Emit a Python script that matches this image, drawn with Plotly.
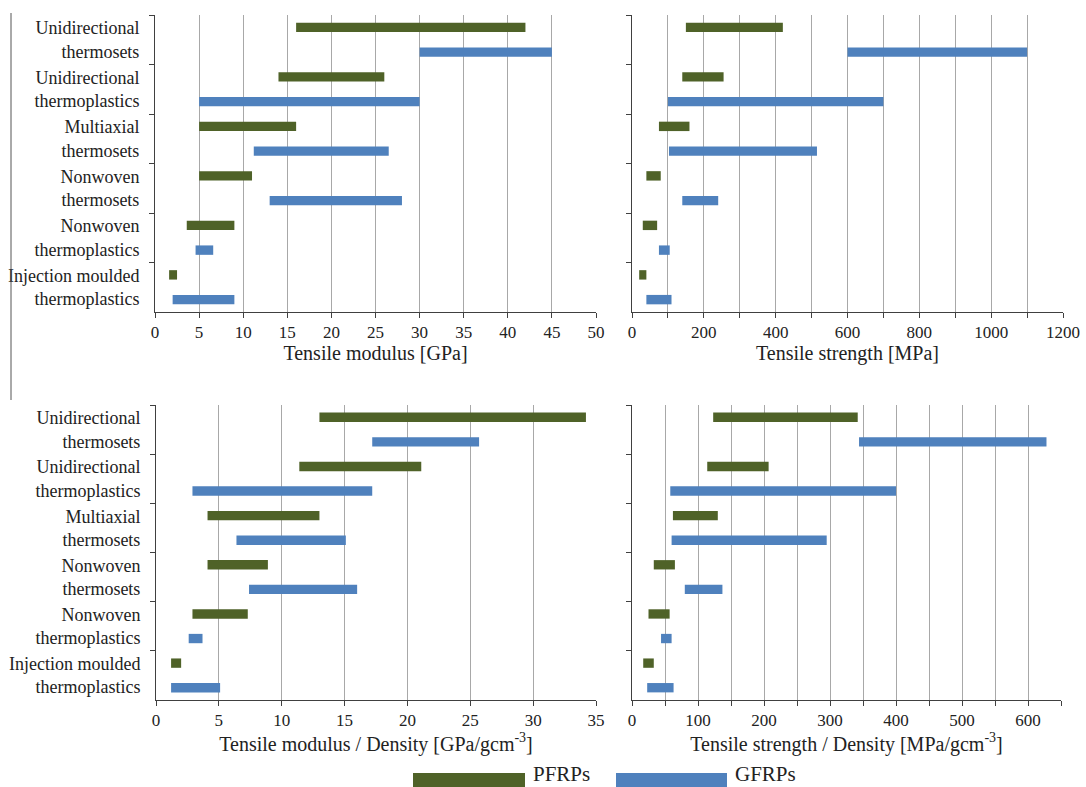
import plotly.graph_objects as go

categories = ["Unidirectional<br>thermosets", "Unidirectional<br>thermoplastics",
              "Multiaxial<br>thermosets", "Nonwoven<br>thermosets",
              "Nonwoven<br>thermoplastics", "Injection moulded<br>thermoplastics"]

# Tensile modulus [GPa]
mod_pfrp_lo = [16, 14, 5, 5, 3.6, 1.6]
mod_pfrp_hi = [42, 26, 16, 11, 9, 2.5]
mod_gfrp_lo = [30, 5, 11.2, 13, 4.6, 2]
mod_gfrp_hi = [45, 30, 26.5, 28, 6.6, 9]

# Tensile strength [MPa]
str_pfrp_lo = [150, 140, 75, 40, 30, 20]
str_pfrp_hi = [420, 255, 160, 80, 70, 40]
str_gfrp_lo = [600, 100, 103, 140, 75, 40]
str_gfrp_hi = [1100, 700, 515, 240, 105, 110]

# Tensile modulus / density [GPa/gcm-3]
smod_pfrp_lo = [13.0, 11.4, 4.1, 4.1, 2.9, 1.2]
smod_pfrp_hi = [34.2, 21.1, 13.0, 8.9, 7.3, 2.0]
smod_gfrp_lo = [17.2, 2.9, 6.4, 7.4, 2.6, 1.2]
smod_gfrp_hi = [25.7, 17.2, 15.1, 16.0, 3.7, 5.1]

# Tensile strength / density [MPa/gcm-3]
sstr_pfrp_lo = [123, 114, 62, 33, 25, 17]
sstr_pfrp_hi = [342, 207, 130, 65, 57, 33]
sstr_gfrp_lo = [344, 58, 60, 80, 44, 23]
sstr_gfrp_hi = [628, 400, 295, 137, 60, 63]

GREEN = "#4F6228"
BLUE = "#4F81BD"
FONT = "Liberation Serif, Times New Roman, DejaVu Serif, serif"

fig = go.Figure()
panels = [
    ("x", "y", mod_pfrp_lo, mod_pfrp_hi, mod_gfrp_lo, mod_gfrp_hi),
    ("x2", "y2", str_pfrp_lo, str_pfrp_hi, str_gfrp_lo, str_gfrp_hi),
    ("x3", "y3", smod_pfrp_lo, smod_pfrp_hi, smod_gfrp_lo, smod_gfrp_hi),
    ("x4", "y4", sstr_pfrp_lo, sstr_pfrp_hi, sstr_gfrp_lo, sstr_gfrp_hi),
]
for xa, ya, plo, phi, glo, ghi in panels:
    fig.add_trace(go.Bar(orientation="h", y=categories, base=plo,
                         x=[h - l for l, h in zip(plo, phi)],
                         marker=dict(color=GREEN, line=dict(width=0)),
                         name="PFRPs", xaxis=xa, yaxis=ya, showlegend=False))
    fig.add_trace(go.Bar(orientation="h", y=categories, base=glo,
                         x=[h - l for l, h in zip(glo, ghi)],
                         marker=dict(color=BLUE, line=dict(width=0)),
                         name="GFRPs", xaxis=xa, yaxis=ya, showlegend=False))

AXC = "#404040"
GRIDC = "#A8A8A8"
tickfont = dict(family=FONT, size=17, color="#222222")
titlefont = dict(family=FONT, size=20, color="#222222")


def xaxis(domain, anchor, rng, step, label_step, title):
    vals = []
    v = 0
    while v <= rng[1] + 1e-9:
        vals.append(v)
        v += step
    text = [str(int(v)) if abs((v / label_step) - round(v / label_step)) < 1e-9 else " " for v in vals]
    return dict(domain=domain, anchor=anchor, range=rng, tickmode="array",
                tickvals=vals, ticktext=text, showgrid=True, gridcolor=GRIDC,
                gridwidth=1, zeroline=False, showline=True, linecolor=AXC,
                linewidth=1, ticks="outside", ticklen=5, tickcolor=AXC,
                automargin=False, tickfont=tickfont,
                title=dict(text=title, font=titlefont, standoff=4))


def yaxis(domain, anchor, labels):
    return dict(domain=domain, anchor=anchor, type="category",
                categoryorder="array", categoryarray=categories,
                range=[5.5, -0.5], tickson="boundaries", ticks="outside",
                ticklen=5, tickcolor=AXC, showline=True, linecolor=AXC,
                linewidth=1, showgrid=False, zeroline=False, ticklabelstandoff=11,
                automargin=False, showticklabels=labels,
                tickfont=dict(family=FONT, size=18, color="#222222"))


top = [1 - 312 / 787, 1 - 15 / 787]
bot = [1 - 700 / 787, 1 - 405 / 787]

fig.update_layout(
    width=1086, height=787, autosize=False,
    margin=dict(l=0, r=0, t=0, b=0, pad=0, autoexpand=False),
    paper_bgcolor="white", plot_bgcolor="white",
    barmode="group", bargap=0, bargroupgap=0.62,
    font=dict(family=FONT),
    xaxis=xaxis([155 / 1086, 596 / 1086], "y", [0, 50], 5, 5, "Tensile modulus [GPa]"),
    yaxis=yaxis(top, "x", True),
    xaxis2=xaxis([632 / 1086, 1063 / 1086], "y2", [0, 1200], 100, 200, "Tensile strength [MPa]"),
    yaxis2=yaxis(top, "x2", False),
    xaxis3=xaxis([156 / 1086, 596 / 1086], "y3", [0, 35], 5, 5,
                 "Tensile modulus / Density [GPa/gcm<sup>-3</sup>]"),
    yaxis3=yaxis(bot, "x3", True),
    xaxis4=xaxis([632 / 1086, 1061 / 1086], "y4", [0, 650], 50, 100,
                 "Tensile strength / Density [MPa/gcm<sup>-3</sup>]"),
    yaxis4=yaxis(bot, "x4", False),
)

# legend drawn as wide swatches like the original
legend_items = [("PFRPs", GREEN, 413, 525, 532), ("GFRPs", BLUE, 616, 727, 734)]
for name, col, x0, x1, tx in legend_items:
    fig.add_shape(type="rect", xref="paper", yref="paper",
                  x0=x0 / 1086, x1=x1 / 1086, y0=-0.01, y1=1 - 773 / 787,
                  fillcolor=col, line=dict(width=0))
    fig.add_annotation(xref="paper", yref="paper", x=tx / 1086, y=0,
                       text=name, showarrow=False, xanchor="left", yanchor="bottom",
                       borderpad=0, font=dict(family=FONT, size=21, color="#222222"))

# vertical rule at the far left
fig.add_shape(type="line", xref="paper", yref="paper", x0=11 / 1086, x1=11 / 1086,
              y0=1 - 400 / 787, y1=1 - 13 / 787, line=dict(color="#555555", width=1))

fig.write_html("out.html", config={"displayModeBar": False},
               post_script="document.body.style.margin='0';document.body.style.overflow='hidden';")
